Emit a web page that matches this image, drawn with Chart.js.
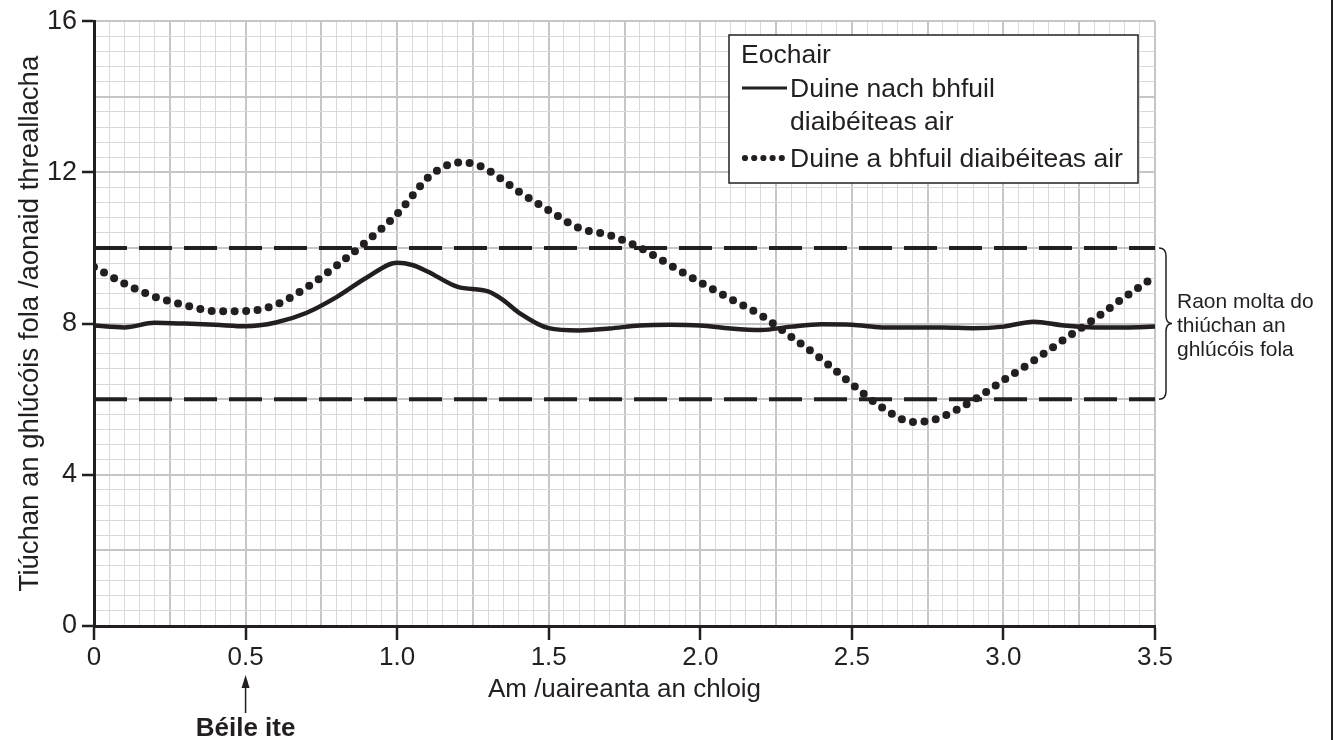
<!DOCTYPE html>
<html>
<head>
<meta charset="utf-8">
<script src="https://cdn.jsdelivr.net/npm/chart.js@4.4.1/dist/chart.umd.min.js"></script>
<style>
  html, body { margin: 0; padding: 0; background: #fff; }
  #wrap { width: 1334px; height: 740px; }
</style>
</head>
<body>
<div id="wrap"><canvas id="glucose" width="1334" height="740"></canvas></div>
<script>
// time in hours after the start
const timesNormal = [0, 0.1, 0.2, 0.3, 0.4, 0.5, 0.6, 0.7, 0.8, 0.9, 1.0, 1.05, 1.1, 1.2, 1.3, 1.35, 1.4, 1.5, 1.6, 1.7, 1.8, 1.9, 2.0, 2.1, 2.2, 2.3, 2.4, 2.5, 2.6, 2.7, 2.8, 2.9, 3.0, 3.1, 3.2, 3.3, 3.4, 3.5];
const glucoseNormal = [7.95, 7.9, 8.02, 8.0, 7.97, 7.93, 8.03, 8.28, 8.7, 9.22, 9.61, 9.55, 9.38, 8.97, 8.85, 8.62, 8.3, 7.88, 7.82, 7.87, 7.95, 7.97, 7.95, 7.87, 7.83, 7.92, 7.98, 7.97, 7.9, 7.9, 7.9, 7.88, 7.92, 8.05, 7.95, 7.9, 7.9, 7.92];

const timesDiabetic = [0, 0.1, 0.2, 0.3, 0.4, 0.5, 0.6, 0.7, 0.8, 0.9, 1.0, 1.05, 1.1, 1.15, 1.2, 1.25, 1.3, 1.4, 1.5, 1.6, 1.7, 1.8, 1.9, 2.0, 2.1, 2.2, 2.3, 2.4, 2.5, 2.6, 2.7, 2.75, 2.8, 2.9, 3.0, 3.1, 3.2, 3.3, 3.4, 3.5];
const glucoseDiabetic = [9.5, 9.06, 8.71, 8.49, 8.33, 8.33, 8.5, 8.95, 9.53, 10.18, 10.9, 11.38, 11.85, 12.13, 12.26, 12.23, 12.06, 11.5, 11.0, 10.53, 10.34, 10.01, 9.55, 9.09, 8.65, 8.22, 7.65, 7.06, 6.4, 5.78, 5.4, 5.42, 5.54, 5.97, 6.5, 7.02, 7.58, 8.12, 8.7, 9.25];

// recommended range
const rangeTimes = [0, 3.5];
const rangeUpper = [10, 10];
const rangeLower = [6, 6];

const xTickValues = [0, 0.5, 1.0, 1.5, 2.0, 2.5, 3.0, 3.5];
const xTickLabels = ['0', '0.5', '1.0', '1.5', '2.0', '2.5', '3.0', '3.5'];
const yTickValues = [0, 4, 8, 12, 16];
const yTickLabels = ['0', '4', '8', '12', '16'];

const INK = '#231f20';
const GRID_MINOR = '#d9d9d9';
const GRID_MAJOR = '#c6c6c6';

const near = (a, b) => Math.abs(a - b) < 1e-6;
const labelFor = (vals, labels, v) => {
  const i = vals.findIndex(t => near(t, v));
  return i < 0 ? '' : labels[i];
};
const isMultiple = (v, step) => near(v / step, Math.round(v / step));

function pts(xs, ys) {
  return xs.map((t, i) => ({ x: t, y: ys[i] }));
}

Chart.defaults.font.family = '"Liberation Sans", Arial, Helvetica, sans-serif';
Chart.defaults.color = INK;

// key box, bracket and the meal arrow
const extras = {
  id: 'extras',
  afterDraw(chart) {
    const { ctx, chartArea, scales: { x, y } } = chart;
    ctx.save();

    // key
    ctx.fillStyle = '#fff';
    ctx.fillRect(729, 35, 409, 148);
    ctx.strokeStyle = INK;
    ctx.lineWidth = 1.5;
    ctx.strokeRect(729, 35, 409, 148);

    ctx.fillStyle = INK;
    ctx.font = '26.5px "Liberation Sans", Arial, sans-serif';
    ctx.textBaseline = 'alphabetic';
    ctx.textAlign = 'left';
    ctx.fillText('Eochair', 741, 63);
    ctx.fillText('Duine nach bhfuil', 790, 97);
    ctx.fillText('diaibéiteas air', 790, 130);
    ctx.fillText('Duine a bhfuil diaibéiteas air', 790, 167);

    ctx.lineWidth = 2.8;
    ctx.beginPath();
    ctx.moveTo(742, 88);
    ctx.lineTo(787, 88);
    ctx.stroke();

    for (let i = 0; i < 5; i++) {
      ctx.beginPath();
      ctx.arc(745 + i * 9.2, 158, 3.1, 0, Math.PI * 2);
      ctx.fill();
    }

    // bracket for the recommended range
    const top = y.getPixelForValue(10);
    const bot = y.getPixelForValue(6);
    const mid = (top + bot) / 2;
    const bx = chartArea.right + 4;
    ctx.lineWidth = 1.5;
    ctx.beginPath();
    ctx.moveTo(bx, top);
    ctx.quadraticCurveTo(bx + 7, top, bx + 7, top + 8);
    ctx.lineTo(bx + 7, mid - 8);
    ctx.quadraticCurveTo(bx + 7, mid, bx + 13, mid);
    ctx.quadraticCurveTo(bx + 7, mid, bx + 7, mid + 8);
    ctx.lineTo(bx + 7, bot - 8);
    ctx.quadraticCurveTo(bx + 7, bot, bx, bot);
    ctx.stroke();

    ctx.font = '21px "Liberation Sans", Arial, sans-serif';
    ctx.fillText('Raon molta do', 1177, mid - 16);
    ctx.fillText('thiúchan an', 1177, mid + 8);
    ctx.fillText('ghlúcóis fola', 1177, mid + 32);

    // meal arrow
    const ax = x.getPixelForValue(0.5);
    const ab = chartArea.bottom;
    ctx.lineWidth = 1.5;
    ctx.beginPath();
    ctx.moveTo(ax, ab + 87);
    ctx.lineTo(ax, ab + 58);
    ctx.stroke();
    ctx.beginPath();
    ctx.moveTo(ax, ab + 49);
    ctx.lineTo(ax - 4, ab + 62);
    ctx.lineTo(ax + 4, ab + 62);
    ctx.closePath();
    ctx.fill();

    ctx.font = 'bold 26px "Liberation Sans", Arial, sans-serif';
    ctx.textAlign = 'center';
    ctx.fillText('Béile ite', ax, ab + 110);

    // frame on the right
    ctx.lineWidth = 2;
    ctx.beginPath();
    ctx.moveTo(1332, 0);
    ctx.lineTo(1332, 740);
    ctx.stroke();

    ctx.restore();
  }
};

new Chart(document.getElementById('glucose'), {
  type: 'line',
  data: {
    datasets: [
      {
        label: 'Duine nach bhfuil diaibéiteas air',
        data: pts(timesNormal, glucoseNormal),
        borderColor: INK,
        borderWidth: 4.5,
        pointRadius: 0,
        cubicInterpolationMode: 'monotone'
      },
      {
        label: 'Duine a bhfuil diaibéiteas air',
        data: pts(timesDiabetic, glucoseDiabetic),
        borderColor: INK,
        borderWidth: 8,
        borderDash: [0, 11.5],
        borderCapStyle: 'round',
        pointRadius: 0,
        cubicInterpolationMode: 'monotone'
      },
      {
        label: 'upper',
        data: pts(rangeTimes, rangeUpper),
        borderColor: INK,
        borderWidth: 4,
        borderDash: [33, 12],
        pointRadius: 0
      },
      {
        label: 'lower',
        data: pts(rangeTimes, rangeLower),
        borderColor: INK,
        borderWidth: 4,
        borderDash: [33, 12],
        pointRadius: 0
      }
    ]
  },
  options: {
    responsive: false,
    animation: false,
    layout: { padding: { left: 0, right: 179, top: 20, bottom: 0 } },
    plugins: { legend: { display: false }, tooltip: { enabled: false } },
    scales: {
      x: {
        type: 'linear',
        min: 0,
        max: 3.5,
        afterFit(s) { s.height = 114; },
        ticks: {
          stepSize: 0.05,
          autoSkip: false,
          minRotation: 0,
          maxRotation: 0,
          padding: 2,
          font: { size: 26 },
          callback: v => labelFor(xTickValues, xTickLabels, v)
        },
        grid: {
          color: c => (c.tick && isMultiple(c.tick.value, 0.25)) ? GRID_MAJOR : GRID_MINOR,
          lineWidth: c => (c.tick && isMultiple(c.tick.value, 0.25)) ? 2 : 1,
          tickLength: 14,
          tickWidth: 2.5,
          tickColor: c => (c.tick && labelFor(xTickValues, xTickLabels, c.tick.value)) ? INK : 'rgba(0,0,0,0)'
        },
        border: { color: INK, width: 3 },
        title: {
          display: true,
          text: 'Am /uaireanta an chloig',
          font: { size: 26 },
          padding: { top: 0, bottom: 35 }
        }
      },
      y: {
        type: 'linear',
        min: 0,
        max: 16,
        afterFit(s) { s.width = 94; },
        ticks: {
          stepSize: 0.4,
          autoSkip: false,
          padding: 5,
          font: { size: 27 },
          callback: v => labelFor(yTickValues, yTickLabels, v)
        },
        grid: {
          color: c => (c.tick && isMultiple(c.tick.value, 2)) ? GRID_MAJOR : GRID_MINOR,
          lineWidth: c => (c.tick && isMultiple(c.tick.value, 2)) ? 2 : 1,
          tickLength: 12,
          tickWidth: 2.5,
          tickColor: c => (c.tick && labelFor(yTickValues, yTickLabels, c.tick.value)) ? INK : 'rgba(0,0,0,0)'
        },
        border: { color: INK, width: 3 },
        title: {
          display: true,
          text: 'Tiúchan an ghlúcóis fola /aonaid threallacha',
          font: { size: 27.5 },
          padding: { top: 14, bottom: 0 }
        }
      }
    }
  },
  plugins: [extras]
});
</script>
</body>
</html>
